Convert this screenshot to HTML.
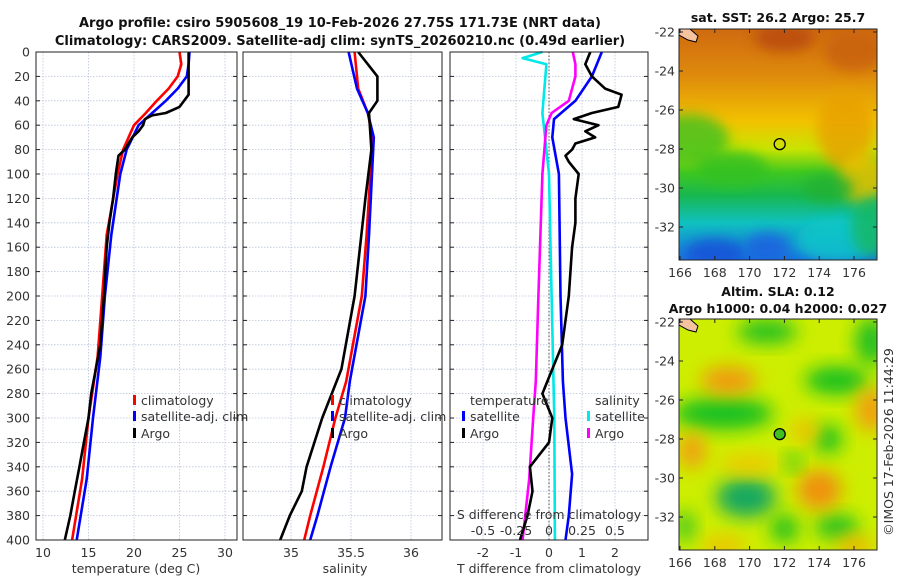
<!DOCTYPE html>
<html><head><meta charset="utf-8"><style>
html,body{margin:0;padding:0;background:#fff;}
svg{display:block;font-family:"DejaVu Sans","Liberation Sans",sans-serif;}
</style></head><body>
<svg id="c" width="900" height="580" viewBox="0 0 900 580" xmlns="http://www.w3.org/2000/svg">
<defs>
<filter id="bl" x="-50%" y="-50%" width="200%" height="200%"><feGaussianBlur stdDeviation="9"/></filter>
<filter id="bl2" x="-50%" y="-50%" width="200%" height="200%"><feGaussianBlur stdDeviation="6"/></filter>
<clipPath id="m1c"><rect x="679" y="29" width="198" height="231"/></clipPath>
<clipPath id="m2c"><rect x="679" y="319" width="198" height="231"/></clipPath>
<linearGradient id="sst" x1="0" y1="0" x2="0" y2="1">
<stop offset="0" stop-color="#cf6a10"/><stop offset="0.2" stop-color="#de8a0c"/>
<stop offset="0.4" stop-color="#f2c200"/><stop offset="0.52" stop-color="#c8e400"/>
<stop offset="0.62" stop-color="#40c820"/><stop offset="0.72" stop-color="#18b850"/>
<stop offset="0.84" stop-color="#10c0c0"/><stop offset="1" stop-color="#1a70e0"/>
</linearGradient>
</defs>
<text x="340" y="27" text-anchor="middle" font-size="13" font-weight="bold" fill="#111">Argo profile: csiro 5905608_19 10-Feb-2026 27.75S 171.73E (NRT data)</text>
<text x="340" y="45" text-anchor="middle" font-size="13" font-weight="bold" fill="#111">Climatology: CARS2009. Satellite-adj clim: synTS_20260210.nc (0.49d earlier)</text>
<g id="g"></g>
</svg>
<script>
// ---- data (depth in m) ----
const depthT = [0,10,20,30,40,50,60,80,100,150,200,250,300,350,400];
const tempClim = [25.0,25.2,24.8,23.8,22.5,21.3,20.0,18.8,18.2,17.0,16.5,16.0,15.0,14.3,13.2];
const tempSat = [26.1,26.0,25.8,24.8,23.5,22.0,20.5,19.2,18.5,17.5,16.8,16.3,15.5,14.8,13.7];
const depthArgo = [0,20,35,45,50,52,55,60,65,70,80,85,100,120,140,160,200,240,260,280,300,320,340,360,380,400];
const tempArgo = [26.0,26.0,26.0,25.0,23.5,22.0,21.2,21.0,20.5,19.8,19.0,18.3,18.0,17.7,17.3,17.0,16.7,16.3,15.8,15.3,15.0,14.5,14.0,13.5,13.0,12.4];
const depthS = [0,30,50,70,150,200,270,300,340,380,400];
const salClim = [35.53,35.56,35.64,35.68,35.63,35.59,35.46,35.37,35.27,35.16,35.11];
const salSat = [35.48,35.55,35.64,35.69,35.65,35.62,35.49,35.45,35.33,35.22,35.16];
const depthSA = [0,20,40,50,80,120,200,260,270,300,340,360,380,400];
const salArgo = [35.56,35.72,35.72,35.65,35.67,35.62,35.53,35.42,35.38,35.26,35.13,35.09,34.99,34.91];
const depthD = [0,10,20,30,35,45,50,55,60,65,70,75,80,85,90,100,120,140,160,200,240,280,300,320,340,360,380,400];
const tdiffArgo = [1.25,1.1,1.3,1.7,2.2,2.1,1.3,0.75,1.5,1.1,1.4,0.8,0.7,0.5,0.6,0.9,0.8,0.8,0.7,0.6,0.4,-0.2,0.1,0.0,-0.58,-0.5,-0.65,-0.88];
const depthD2 = [0,20,40,55,70,100,200,270,300,346,380,400];
const tdiffSat = [1.6,1.3,0.8,0.15,0.1,0.3,0.35,0.42,0.5,0.7,0.6,0.5];
const depthSD = [0,5,10,50,100,200,300,400];
const sdiffSat = [-0.05,-0.2,-0.02,-0.05,0.0,0.02,0.04,0.045];
const depthSD2 = [0,10,20,40,50,60,100,200,270,300,350,400];
const sdiffArgo = [0.18,0.2,0.2,0.15,0.02,-0.02,-0.05,-0.08,-0.1,-0.12,-0.15,-0.2];
const depthTicks = [0,20,40,60,80,100,120,140,160,180,200,220,240,260,280,300,320,340,360,380,400];
const tTicks = [10,15,20,25,30];
const sTicks = [35,35.5,36];
const tdTicks = [-2,-1,0,1,2];
const sdTicks = [-0.5,-0.25,0,0.25,0.5];
const sdTickLabels = ['-0.5','-0.25','0','0.25','0.5'];
const lonTicks = [166,168,170,172,174,176];
const latTicks = [-22,-24,-26,-28,-30,-32];
const argoLon = 171.73, argoLat = -27.75;

// ---- scales ----
const Y0=52, Y1=540;
const yD = d => Y0 + d*(Y1-Y0)/400;
const xT = t => 43 + (t-10)*9.1;
const xS = s => 291 + (s-35)*120;
const xTD = v => 549 + v*33;
const xSD = v => 549 + v*132;
const mx = lon => 680 + (lon-166)*17.4;
const my1 = lat => 32 + (-22-lat)*19.5;
const my2 = lat => 322 + (-22-lat)*19.5;

const NS='http://www.w3.org/2000/svg';
const G=document.getElementById('g');
function mk(tag, attrs, parent){const e=document.createElementNS(NS,tag);for(const k in attrs)e.setAttribute(k,attrs[k]);(parent||G).appendChild(e);return e;}
function txt(x,y,s,attrs,parent){const e=mk('text',Object.assign({x:x,y:y,'font-size':12.5,fill:'#333'},attrs||{}),parent);e.textContent=s;return e;}

const panels=[{x0:36,x1:237,name:'temperature-panel'},{x0:243,x1:442,name:'salinity-panel'},{x0:450,x1:648,name:'difference-panel'}];
const vgrids=[tTicks.map(xT), sTicks.map(xS), tdTicks.map(xTD)];
panels.forEach((p,i)=>{
  const g=mk('g',{});
  
  
  depthTicks.forEach(d=>{
    const l=mk('line',{x1:p.x0,x2:p.x1,y1:yD(d),y2:yD(d),stroke:'#b8c4dc','stroke-width':0.8,'stroke-dasharray':'1.5,1.5'},g);
    
    
    mk('line',{x1:p.x0,x2:p.x0+4,y1:yD(d),y2:yD(d),stroke:'#222'},g);
    mk('line',{x1:p.x1-4,x2:p.x1,y1:yD(d),y2:yD(d),stroke:'#222'},g);
  });
  vgrids[i].forEach(x=>{
    const l=mk('line',{x1:x,x2:x,y1:Y0,y2:Y1,stroke:'#b8c4dc','stroke-width':0.8,'stroke-dasharray':'1.5,1.5'},g);
    
    
  });
  p.g=g;
});
depthTicks.forEach(d=>{const t=txt(30,yD(d)+4.5,String(d),{'text-anchor':'end'});
  
  });
mk('line',{x1:xTD(0),x2:xTD(0),y1:Y0,y2:Y1,stroke:'#555','stroke-width':1,'stroke-dasharray':'1.5,2'});

function series(xs, ds, fx, color, name){
  const pts=xs.map((v,i)=>fx(v).toFixed(1)+','+yD(ds[i]).toFixed(1)).join(' ');
  const e=mk('polyline',{points:pts,fill:'none',stroke:color,'stroke-width':2.6,'stroke-linejoin':'round'});
  
  
}
series(tempClim, depthT, xT, '#ff0000','temp-climatology-line');
series(tempSat, depthT, xT, '#0000ff','temp-satellite-line');
series(tempArgo, depthArgo, xT, '#000000','temp-argo-line');
series(salClim, depthS, xS, '#ff0000','sal-climatology-line');
series(salSat, depthS, xS, '#0000ff','sal-satellite-line');
series(salArgo, depthSA, xS, '#000000','sal-argo-line');
series(sdiffSat, depthSD, xSD, '#00e8e8','sdiff-satellite-line');
series(sdiffArgo, depthSD2, xSD, '#ff00ff','sdiff-argo-line');
series(tdiffSat, depthD2, xTD, '#0000ff','tdiff-satellite-line');
series(tdiffArgo, depthD, xTD, '#000000','tdiff-argo-line');

panels.forEach(p=>{const r=mk('rect',{x:p.x0,y:Y0,width:p.x1-p.x0,height:Y1-Y0,fill:'none',stroke:'#222','stroke-width':1});
  
  });

tTicks.forEach(t=>{const e=txt(xT(t),557,String(t),{'text-anchor':'middle'});
  
  });
sTicks.forEach(s=>{const e=txt(xS(s),557,String(s),{'text-anchor':'middle'});
  
  });
tdTicks.forEach(v=>{const e=txt(xTD(v),557,String(v),{'text-anchor':'middle'});
  
  });
sdTicks.forEach((v,i)=>{const e=txt(xSD(v),535,sdTickLabels[i],{'text-anchor':'middle'});
  
  });
[[136,573,'temperature (deg C)','temp-axis-title'],[345,573,'salinity','sal-axis-title'],[549,573,'T difference from climatology','tdiff-axis-title'],[549,519,'S difference from climatology','sdiff-axis-title']].forEach(a=>{
  const e=txt(a[0],a[1],a[2],{'text-anchor':'middle'});
  
  });

function legItem(x,y,color,label){
  const g=mk('g',{});
  
  
  mk('rect',{x:x,y:y-10,width:3,height:10,fill:color},g);
  txt(x+8,y,label,{},g);
}
legItem(133,405,'#ff0000','climatology');legItem(133,421,'#0000ff','satellite-adj. clim');legItem(133,438,'#000000','Argo');
legItem(331,405,'#ff0000','climatology');legItem(331,421,'#0000ff','satellite-adj. clim');legItem(331,438,'#000000','Argo');
txt(470,405,'temperature');txt(595,405,'salinity');
legItem(462,421,'#0000ff','satellite');legItem(462,438,'#000000','Argo');
legItem(587,421,'#00e8e8','satellite');legItem(587,438,'#ff00ff','Argo');

function mapAxes(my,top,bottom){
  lonTicks.forEach(l=>{mk('line',{x1:mx(l),x2:mx(l),y1:bottom,y2:bottom-4,stroke:'#222'});mk('line',{x1:mx(l),x2:mx(l),y1:top,y2:top+4,stroke:'#222'});
    const e=txt(mx(l),bottom+17,String(l),{'text-anchor':'middle'});
    
    });
  latTicks.forEach(l=>{mk('line',{x1:679,x2:683,y1:my(l),y2:my(l),stroke:'#222'});mk('line',{x1:873,x2:877,y1:my(l),y2:my(l),stroke:'#222'});
    const e=txt(675,my(l)+4.5,String(l),{'text-anchor':'end'});
    
    });
}
const m1=mk('g',{'clip-path':'url(#m1c)'});


mk('rect',{x:679,y:29,width:198,height:231,fill:'url(#sst)'},m1);
const sstBlobs=[[172,-22.3,30,14,'#b84a10'],[176,-23,30,20,'#c86010'],[166.5,-27.5,40,25,'#40c020'],[175.5,-27,28,40,'#e8a000'],[176.5,-29.5,25,25,'#f0c000'],[169,-29,35,18,'#30c020'],[174.5,-30,26,14,'#20b030'],[168,-33.3,30,14,'#1450d8'],[171,-33,22,14,'#1a5ee0'],[175,-32.7,40,22,'#10c8c8'],[177,-32,20,30,'#18b860']];
sstBlobs.forEach(b=>mk('ellipse',{cx:mx(b[0]),cy:my1(b[1]),rx:b[2],ry:b[3],fill:b[4],filter:'url(#bl2)',opacity:0.8},m1));
mk('path',{d:'M679,29 L690,29 L698,36 L696,42 L688,40 L679,35 Z',fill:'#f6c3a0',stroke:'#000','stroke-width':1},m1);
const c1=mk('circle',{cx:mx(argoLon),cy:my1(argoLat),r:5.5,fill:'none',stroke:'#000','stroke-width':1.3});


mk('rect',{x:679,y:29,width:198,height:231,fill:'none',stroke:'#222'});
mapAxes(my1,29,260);
txt(778,22,'sat. SST: 26.2 Argo: 25.7',{'text-anchor':'middle','font-weight':'bold',fill:'#111'});

const m2=mk('g',{'clip-path':'url(#m2c)'});


mk('rect',{x:679,y:319,width:198,height:231,fill:'#cdee00'},m2);
const slaBlobs=[[171,-22.5,30,12,'#20c020'],[177,-23,16,24,'#20c020'],[175,-25,32,14,'#18c020'],[168.5,-26.7,50,16,'#18c020'],[174.5,-28,14,14,'#18c020'],[172.5,-29.2,8,8,'#18c020'],[169.8,-31,30,20,'#18a860'],[172,-32.6,14,14,'#20c020'],[175,-32.5,22,12,'#20c020'],[166.3,-32.5,10,16,'#40c820'],
[168.8,-25,28,14,'#f09a10'],[177,-26.5,16,22,'#f0a010'],[166.7,-28.6,14,18,'#f0a010'],[174,-30.6,22,20,'#f09010'],[173.2,-27.6,14,12,'#f0c000'],[168.5,-33.5,22,10,'#f0c000'],[176,-33.5,18,10,'#f0b000'],[170,-29.3,30,10,'#f0c800']];
slaBlobs.forEach(b=>mk('ellipse',{cx:mx(b[0]),cy:my2(b[1]),rx:b[2],ry:b[3],fill:b[4],filter:'url(#bl)'},m2));
mk('path',{d:'M679,319 L690,319 L698,326 L696,332 L688,330 L679,325 Z',fill:'#f6c3a0',stroke:'#000','stroke-width':1},m2);
const c2=mk('circle',{cx:mx(argoLon),cy:my2(argoLat),r:5.5,fill:'#40c020',stroke:'#000','stroke-width':1.3});


mk('rect',{x:679,y:319,width:198,height:231,fill:'none',stroke:'#222'});
mapAxes(my2,319,550);
txt(778,296,'Altim. SLA: 0.12',{'text-anchor':'middle','font-weight':'bold',fill:'#111'});
txt(778,313,'Argo h1000: 0.04 h2000: 0.027',{'text-anchor':'middle','font-weight':'bold',fill:'#111'});
const cp=txt(0,0,'©IMOS 17-Feb-2026 11:44:29',{'text-anchor':'middle',transform:'translate(893,442) rotate(-90)'});


</script>
</body></html>
